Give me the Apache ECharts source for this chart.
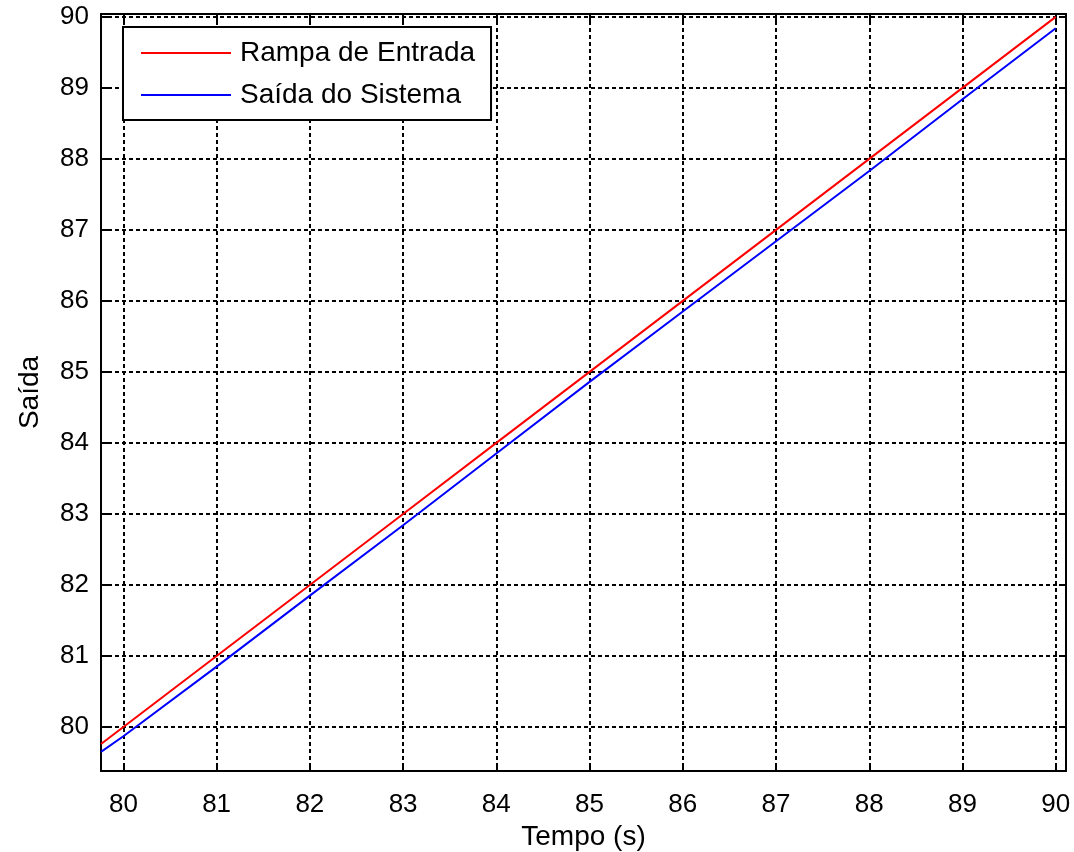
<!DOCTYPE html>
<html>
<head>
<meta charset="utf-8">
<script src="https://cdn.jsdelivr.net/npm/echarts@6/dist/echarts.min.js"></script>
<style>
  body { margin: 0; background: #fff; }
  #main { width: 1074px; height: 852px; }
</style>
</head>
<body>
<div id="main"></div>
<script>
// tempo (s) e valores
var tempo = [79.76, 80, 81, 82, 83, 84, 85, 86, 87, 88, 89, 90];
var rampa = [79.76, 80, 81, 82, 83, 84, 85, 86, 87, 88, 89, 90];
var saida = [79.65, 79.87, 80.85, 81.85, 82.84, 83.85, 84.86, 85.85, 86.84, 87.83, 88.84, 89.84];

var xMin = 79.76, xMax = 90.11;
var yMin = 79.38, yMax = 90.04;

function pares(xs, ys) {
  var out = [];
  for (var i = 0; i < xs.length; i++) out.push([xs[i], ys[i]]);
  return out;
}

function soInteiro(v) {
  return Math.abs(v - Math.round(v)) < 1e-6 ? String(Math.round(v)) : '';
}

var chart = echarts.init(document.getElementById('main'));
var fonte = 'Liberation Sans, Arial, sans-serif';
var grade = { show: true, lineStyle: { color: '#000', width: 2, type: [4, 3] } };

chart.setOption({
  animation: false,
  backgroundColor: '#fff',
  textStyle: { fontFamily: fonte },
  grid: { left: 101, right: 8, top: 14, bottom: 81, containLabel: false, outerBoundsMode: 'none' },
  legend: {
    orient: 'vertical',
    left: 123, top: 27,
    itemWidth: 90, itemHeight: 14, itemGap: 14,
    padding: [12, 16, 11, 17],
    borderColor: '#000', borderWidth: 2,
    backgroundColor: '#fff',
    itemStyle: { opacity: 0 },
    textStyle: { fontSize: 28, color: '#000', fontFamily: fonte, padding: [0, 0, 0, 4] },
    data: ['Rampa de Entrada', 'Saída do Sistema']
  },
  xAxis: [{
    type: 'value', min: xMin, max: xMax, splitNumber: 10,
    name: 'Tempo (s)', nameLocation: 'middle', nameGap: 49,
    nameTextStyle: { fontSize: 28, color: '#000' },
    axisLine: { lineStyle: { color: '#000', width: 2 } },
    axisTick: { inside: true, length: 7, lineStyle: { color: '#000', width: 2 } },
    axisLabel: { fontSize: 26, color: '#000', margin: 21, formatter: soInteiro },
    splitLine: grade
  }, {
    type: 'value', position: 'top', min: xMin, max: xMax, splitNumber: 10,
    axisLine: { show: true, lineStyle: { color: '#000', width: 2 } },
    axisTick: { inside: true, length: 7, lineStyle: { color: '#000', width: 2 } },
    axisLabel: { show: false },
    splitLine: { show: false }
  }],
  yAxis: [{
    type: 'value', min: yMin, max: yMax, splitNumber: 10,
    name: 'Saída', nameLocation: 'middle', nameGap: 57, nameRotate: 90,
    nameTextStyle: { fontSize: 28, color: '#000' },
    axisLine: { show: true, lineStyle: { color: '#000', width: 2 } },
    axisTick: { show: true, inside: true, length: 7, lineStyle: { color: '#000', width: 2 } },
    axisLabel: { fontSize: 26, color: '#000', margin: 12, formatter: soInteiro },
    splitLine: grade
  }, {
    type: 'value', position: 'right', min: yMin, max: yMax, splitNumber: 10,
    axisLine: { show: true, lineStyle: { color: '#000', width: 2 } },
    axisTick: { show: true, inside: true, length: 7, lineStyle: { color: '#000', width: 2 } },
    axisLabel: { show: false },
    splitLine: { show: false }
  }],
  series: [{
    name: 'Rampa de Entrada', type: 'line', symbol: 'none',
    lineStyle: { color: '#ff0000', width: 2 }, itemStyle: { color: '#ff0000' },
    data: pares(tempo, rampa)
  }, {
    name: 'Saída do Sistema', type: 'line', symbol: 'none',
    lineStyle: { color: '#0000ff', width: 2 }, itemStyle: { color: '#0000ff' },
    data: pares(tempo, saida)
  }]
});
</script>
</body>
</html>
